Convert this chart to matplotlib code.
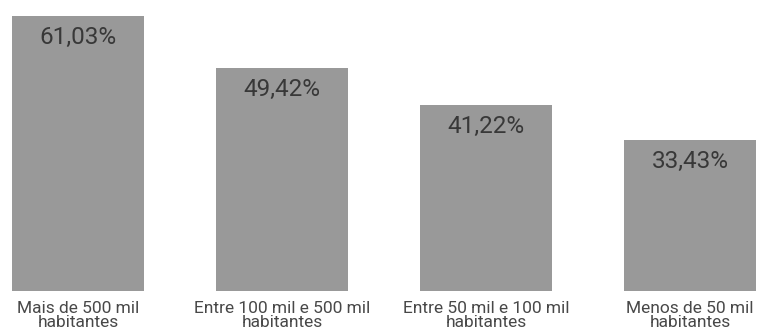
import matplotlib.pyplot as plt

categorias = ["Mais de 500 mil\nhabitantes", "Entre 100 mil e 500 mil\nhabitantes",
              "Entre 50 mil e 100 mil\nhabitantes", "Menos de 50 mil\nhabitantes"]
valores = [61.03, 49.42, 41.22, 33.43]
rotulos = ["61,03%", "49,42%", "41,22%", "33,43%"]

plt.rcParams['font.family'] = ['Roboto', 'DejaVu Sans']

fig = plt.figure(figsize=(7.59, 3.34), dpi=100)
ax = fig.add_axes([0, 43 / 334, 1, 291 / 334])

x = range(len(valores))
bars = ax.bar(x, valores, width=0.647, color='#999999')

for b, txt in zip(bars, rotulos):
    ax.annotate(txt, (b.get_x() + b.get_width() / 2, b.get_height()),
                xytext=(0, -7), textcoords='offset points',
                ha='center', va='top', fontsize=17.5, color='#383838')

ax.set_xlim(-78 / 204, (759 - 78) / 204)
ax.set_ylim(0, 291 / 4.506)
ax.set_xticks(list(x))
ax.set_xticklabels(categorias, fontsize=12.5, color='#484848', linespacing=0.92)
ax.tick_params(axis='x', length=0, pad=7)
ax.set_yticks([])
for s in ax.spines.values():
    s.set_visible(False)

fig.savefig('out.png', dpi=100)
